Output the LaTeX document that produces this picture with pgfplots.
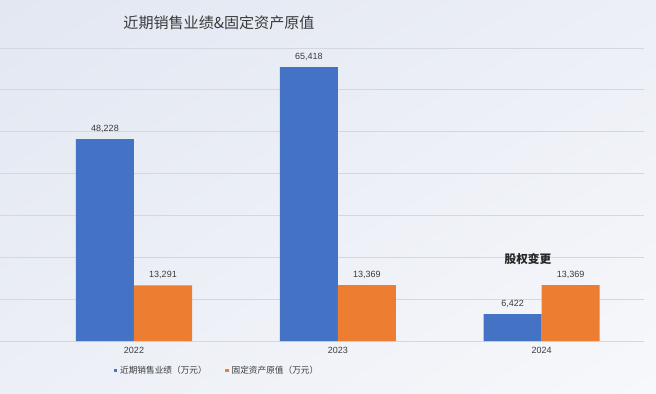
\documentclass[border=0pt]{standalone}
\usepackage{pgfplots}
\pgfplotsset{compat=1.18}
\usetikzlibrary{shadings}
\usepackage{fontspec}
\setmainfont{Liberation Sans}
\newfontfamily\cjk{Noto Sans CJK SC}
\definecolor{cblue}{HTML}{4472C4}
\definecolor{corange}{HTML}{ED7D31}
\definecolor{gridc}{HTML}{D3D7DF}
\definecolor{txt}{HTML}{3A3A3A}
\definecolor{bgA}{HTML}{E2E7F2}
\definecolor{bgB}{HTML}{ECEFF6}
\definecolor{bgC}{HTML}{F7F8FB}
\begin{document}
\begin{tikzpicture}
\useasboundingbox (0,0) rectangle (492pt,294.75pt);
\shade[upper left=bgA, upper right=bgB, lower left=bgB, lower right=bgC] (0,0) rectangle (492pt,294.75pt);
\begin{axis}[
  at={(0pt,39pt)}, anchor=south west,
  scale only axis, width=483pt, height=219.75pt,
  xmin=-0.6575, xmax=2.5025, ymin=0, ymax=70000,
  ybar=0pt, bar width=0.2846,
  axis line style={draw=none},
  major tick length=0pt,
  scaled y ticks=false,
  xtick={0,1,2}, xticklabels={2022,2023,2024},
  xticklabel style={font=\fontsize{6.75}{8}\selectfont, text=txt, yshift=-1pt},
  ytick={0,10000,...,70000}, yticklabels={},
  ymajorgrids, grid style={gridc, line width=0.6pt},
  /pgf/number format/assume math mode=true,
  nodes near coords,
  every node near coord/.append style={font=\fontsize{6.75}{8}\selectfont, text=txt, yshift=1.5pt,
    /pgf/number format/.cd, fixed, precision=0, 1000 sep={,}},
  legend columns=2,
  legend style={at={(0.3377,-0.101)}, anchor=center, draw=none, fill=none,
    font=\cjk\fontsize{6.5}{8}\selectfont, text=txt,
    /tikz/every even column/.append style={column sep=12pt}},
  legend image code/.code={\fill[#1] (0pt,-1.3pt) rectangle (2.6pt,1.3pt);},
  clip=false,
]
\addplot[fill=cblue, draw=none] coordinates {(0,48228) (1,65418) (2,6422)};
\addlegendentry{近期销售业绩（万元）}
\addplot[fill=corange, draw=none] coordinates {(0,13291) (1,13369) (2,13369)};
\addlegendentry{固定资产原值（万元）}
\node[font=\cjk\bfseries\fontsize{8.75}{10}\selectfont, text=black!85] at (axis cs:1.933,19590) {股权变更};
\node[font=\cjk\fontsize{11.3}{13}\selectfont, text=txt] at (rel axis cs:0.340,1.0853) {近期销售业绩\&固定资产原值};
\end{axis}
\end{tikzpicture}
\end{document}
